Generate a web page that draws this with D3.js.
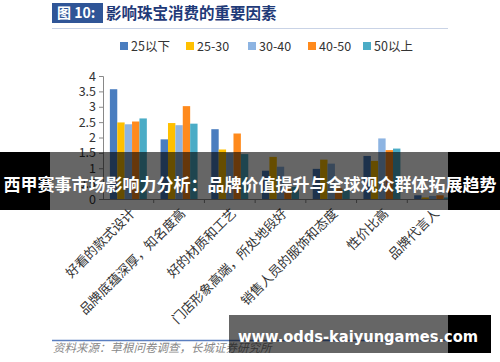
<!DOCTYPE html>
<html>
<head>
<meta charset="utf-8">
<script src="https://cdn.jsdelivr.net/npm/d3@7"></script>
<style>
  body { margin: 0; background: #fff; }
  svg { display: block; font-family: "Noto Sans CJK SC", "Noto Sans", sans-serif; }
</style>
</head>
<body>
<div id="chart"></div>
<script>
// data
const categories = ["好看的款式设计", "品牌底蕴深厚，知名度高", "好的材质和工艺", "门店形象高端，所处地段好", "销售人员的服饰和态度", "性价比高", "品牌代言人"];
const seriesNames = ["25以下", "25-30", "30-40", "40-50", "50以上"];
const under25 = [3.57, 1.94, 2.27, 0.92, 0.98, 1.40, 0.12];
const age25to30 = [2.49, 2.47, 1.61, 1.37, 1.28, 1.24, 0.05];
const age30to40 = [2.43, 2.40, 1.50, 1.05, 1.15, 1.97, 0.10];
const age40to50 = [2.52, 3.02, 2.13, 0.35, 0.35, 1.59, 0.12];
const over50 = [2.62, 2.45, 1.46, 0.40, 0.30, 1.64, 0.05];
const yTicks = [0, 0.5, 1, 1.5, 2, 2.5, 3, 3.5, 4];
const colors = ["#4a7dbf", "#ffc000", "#8db4e2", "#ff8a1c", "#4bacc6"];

const allSeries = [under25, age25to30, age30to40, age40to50, over50];
const rows = categories.map((c, i) => ({cat: c, vals: allSeries.map((s, j) => ({key: seriesNames[j], v: s[i]}))}));

const W = 500, H = 362;
const svg = d3.select("#chart").append("svg").attr("width", W).attr("height", H);

// title
svg.append("rect").attr("x", 52).attr("y", 3).attr("width", 51).attr("height", 20).attr("fill", "#2f5597");
svg.append("text").attr("x", 57).attr("y", 18).attr("fill", "#fff")
  .attr("font-size", 14).attr("font-weight", "bold").text("图 10:");
svg.append("text").attr("x", 106).attr("y", 19).attr("fill", "#1f3a78")
  .attr("font-size", 15.5).attr("font-weight", "bold").text("影响珠宝消费的重要因素");
svg.append("line").attr("x1", 52).attr("x2", 448).attr("y1", 28.5).attr("y2", 28.5)
  .attr("stroke", "#c9d3e6").attr("stroke-width", 1);

// legend
const legX = [120, 186, 248, 308, 363];
const leg = svg.append("g").selectAll("g").data(seriesNames).join("g")
  .attr("transform", (d, i) => `translate(${legX[i]},46)`);
leg.append("rect").attr("x", 0).attr("y", -4).attr("width", 8).attr("height", 8).attr("fill", (d, i) => colors[i]);
leg.append("text").attr("x", 11).attr("y", 4.5).attr("font-size", 12.5).attr("fill", "#333").text(d => d);

// scales
const x0 = d3.scaleBand().domain(categories).range([103, 458]);
const x1 = d3.scaleBand().domain(seriesNames).range([0, x0.bandwidth()]).paddingOuter(0.93);
const y = d3.scaleLinear().domain([0, 4]).range([199, 76]);

// bars
svg.append("g").selectAll("g").data(rows).join("g")
  .attr("transform", d => `translate(${x0(d.cat)},0)`)
  .selectAll("rect").data(d => d.vals).join("rect")
  .attr("x", d => x1(d.key))
  .attr("width", x1.bandwidth())
  .attr("y", d => y(d.v))
  .attr("height", d => y(0) - y(d.v))
  .attr("fill", (d, i) => colors[i]);

// y axis
const yAxis = svg.append("g").attr("transform", "translate(103,0)")
  .call(d3.axisLeft(y).tickValues(yTicks).tickSize(4).tickFormat(d => d));
yAxis.select(".domain").attr("stroke", "#888");
yAxis.selectAll(".tick line").attr("stroke", "#888");
yAxis.selectAll("text").attr("font-size", 12.5).attr("fill", "#333").attr("font-family", "Noto Sans CJK SC");

// x axis with ticks on category boundaries
const xg = svg.append("g");
xg.append("line").attr("x1", 103).attr("x2", 458).attr("y1", y(0) + 0.5).attr("y2", y(0) + 0.5).attr("stroke", "#888");
xg.selectAll("line.tk").data(categories).join("line").attr("class", "tk")
  .attr("x1", d => x0(d) + x0.bandwidth()).attr("x2", d => x0(d) + x0.bandwidth())
  .attr("y1", y(0)).attr("y2", y(0) + 4).attr("stroke", "#888");
xg.selectAll("text").data(categories).join("text")
  .attr("transform", d => `translate(${x0(d) + x0.bandwidth() / 2 + 4},${y(0) + 12}) rotate(-45)`)
  .attr("text-anchor", "end").attr("dy", "0.35em")
  .attr("font-size", 13).attr("fill", "#333").text(d => d);

// source
svg.append("line").attr("x1", 52).attr("x2", 448).attr("y1", 340.5).attr("y2", 340.5)
  .attr("stroke", "#5b7fc0").attr("stroke-width", 1.5);
svg.append("text").attr("x", 53).attr("y", 352).attr("font-size", 11.5).attr("font-style", "italic")
  .attr("fill", "#888").text("资料来源：草根问卷调查，长城证券研究所");

// overlays
svg.append("rect").attr("x", 0).attr("y", 152).attr("width", 50).attr("height", 58).attr("fill", "#000");
svg.append("rect").attr("x", 448).attr("y", 152).attr("width", 52).attr("height", 58).attr("fill", "#000");
svg.append("rect").attr("x", 50).attr("y", 152).attr("width", 398).attr("height", 58).attr("fill", "rgba(0,0,0,0.6)");
svg.append("text").attr("x", 250).attr("y", 191).attr("text-anchor", "middle")
  .attr("font-size", 17).attr("font-weight", "bold").attr("fill", "#fff")
  .text("西甲赛事市场影响力分析：品牌价值提升与全球观众群体拓展趋势");

svg.append("rect").attr("x", 229).attr("y", 315).attr("width", 219).attr("height", 38).attr("fill", "rgba(0,0,0,0.6)");
svg.append("rect").attr("x", 448).attr("y", 315).attr("width", 43).attr("height", 38).attr("fill", "#000");
svg.append("text").attr("x", 238).attr("y", 342).attr("font-size", 16).attr("font-weight", "bold")
  .attr("fill", "#fff").attr("font-family", "DejaVu Sans")
  .attr("textLength", 240).attr("lengthAdjust", "spacingAndGlyphs").text("www.odds-kaiyungames.com");
</script>
</body>
</html>
